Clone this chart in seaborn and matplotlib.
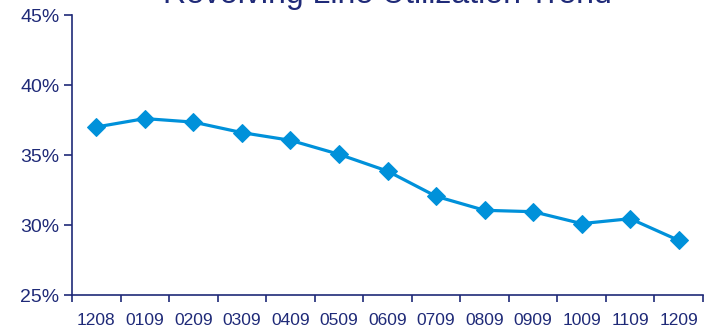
import numpy as np
import pandas as pd
import seaborn as sns
import matplotlib.pyplot as plt
from matplotlib.ticker import FixedLocator, PercentFormatter

# month labels (MMYY) and utilization in percent
months = ['1208', '0109', '0209', '0309', '0409', '0509', '0609',
          '0709', '0809', '0909', '1009', '1109', '1209']
utilization = [37.0, 37.6, 37.35, 36.6, 36.05, 35.05, 33.85,
               32.05, 31.05, 30.95, 30.1, 30.45, 28.9]

navy = '#1f2a78'
blue = '#0091da'

sns.set_theme(style='white')
plt.rcParams['font.family'] = ['Liberation Sans', 'DejaVu Sans']

df = pd.DataFrame({'pos': np.arange(len(months)), 'util': utilization})

fig = plt.figure(figsize=(7.08, 3.30), dpi=100)
ax = fig.add_axes([72/708, 35/330, 631/708, 280/330])

sns.lineplot(data=df, x='pos', y='util', ax=ax, color=blue, lw=2.3,
             marker='D', markersize=9.5, markeredgecolor=blue)

ax.set_xlim(-0.5, len(months) - 0.5)
ax.set_ylim(25, 45)
ax.set_yticks([25, 30, 35, 40, 45])
ax.yaxis.set_major_formatter(PercentFormatter(decimals=0))

# ticks between categories, labels centred
ax.xaxis.set_major_locator(FixedLocator(np.arange(len(months) + 1) - 0.5))
ax.xaxis.set_minor_locator(FixedLocator(np.arange(len(months))))
ax.set_xticklabels([], minor=False)
ax.set_xticklabels(months, minor=True)
ax.tick_params(axis='x', which='both', bottom=True)
ax.tick_params(axis='x', which='major', length=5, width=1.2, color=navy, direction='out')
ax.tick_params(axis='x', which='minor', length=0, pad=13, labelsize=12.5, labelcolor=navy)
ax.tick_params(axis='y', left=True, length=6, width=1.2, color=navy, direction='out',
               labelsize=14, labelcolor=navy, pad=3)
ax.set_xlabel('')
ax.set_ylabel('')

for s in ['top', 'right']:
    ax.spines[s].set_visible(False)
for s in ['left', 'bottom']:
    ax.spines[s].set_color(navy)
    ax.spines[s].set_linewidth(1.2)

fig.text(0.547, 1 - 3/330, 'Revolving Line Utilization Trend',
         ha='center', va='baseline', fontsize=23, color=navy)

fig.savefig('out.png', dpi=100)
